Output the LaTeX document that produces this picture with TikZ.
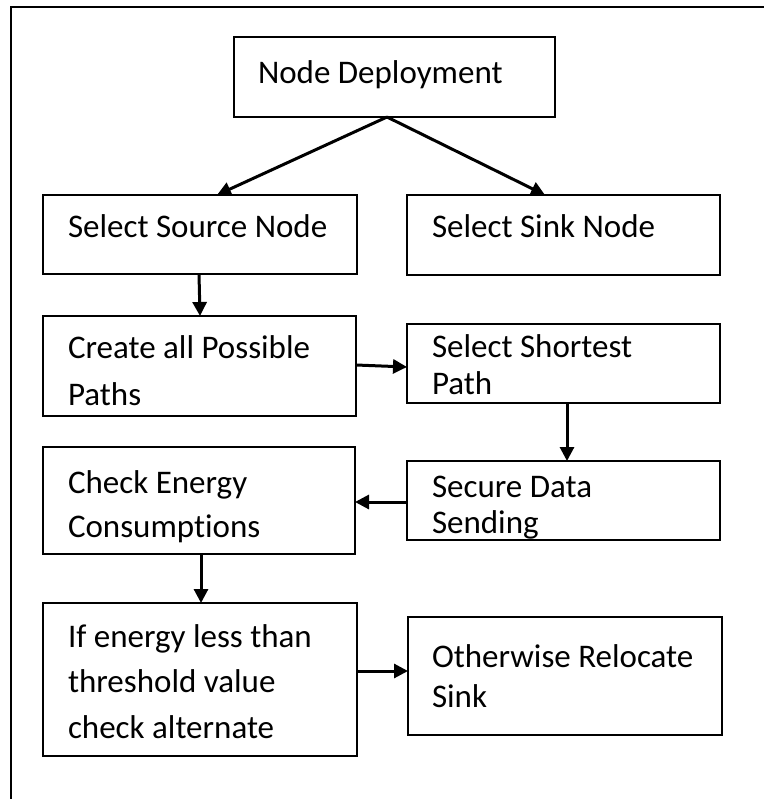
\documentclass[tikz,border=0pt]{standalone}
\usepackage{fontspec}
\setmainfont{Carlito}[Ligatures={NoCommon}]
\usetikzlibrary{arrows.meta,calc}
\begin{document}
\begin{tikzpicture}[x=1pt,y=-1pt,
  box/.style={draw,line width=2pt,rectangle,inner sep=0pt,outer sep=0pt},
  txt/.style={anchor=base west,inner sep=0pt,outer sep=0pt,font=\fontsize{33}{40}\selectfont},
  arr/.style={line width=3pt,-{Triangle[length=14pt,width=14pt]}},
  frameline/.style={line width=2pt}]
\useasboundingbox (0,0) rectangle (764,799);
% outer frame
\coordinate (f1) at (11,799);
\coordinate (f2) at (11,7);
\coordinate (f3) at (764,7);
\draw[frameline] (f1) -- (f2) -- (f3);
% boxes
\node[box,minimum width=321pt,minimum height=80pt] (nd) at (394.5,77) {};
\node[box,minimum width=314pt,minimum height=79pt] (src) at (200,234.5) {};
\node[box,minimum width=313pt,minimum height=80pt] (snk) at (563.5,235) {};
\node[box,minimum width=313pt,minimum height=100pt] (cre) at (199.5,366) {};
\node[box,minimum width=313pt,minimum height=79pt] (sho) at (563.5,363.5) {};
\node[box,minimum width=312pt,minimum height=107pt] (chk) at (199,500.5) {};
\node[box,minimum width=313pt,minimum height=79pt] (sec) at (563.5,500.5) {};
\node[box,minimum width=314pt,minimum height=153pt] (ife) at (200,679.5) {};
\node[box,minimum width=314pt,minimum height=118pt] (oth) at (565,676) {};
% texts
\node[txt] (ndt) at (258,84) {Node Deployment};
\node[txt] (srct) at (68,238) {Select Source Node};
\node[txt] (snkt) at (432,238) {Select Sink Node};
\node[txt] (cret1) at (68,358) {Create all Possible};
\node[txt] (cret2) at (68,405) {Paths};
\node[txt] (shot1) at (432,357) {Select Shortest};
\node[txt] (shot2) at (432,394) {Path};
\node[txt] (chkt1) at (68,493) {Check Energy};
\node[txt] (chkt2) at (68,537) {Consumptions};
\node[txt] (sect1) at (432,497) {Secure Data};
\node[txt] (sect2) at (432,533) {Sending};
\node[txt] (ifet1) at (68,647) {If energy less than};
\node[txt] (ifet2) at (68,692) {threshold value};
\node[txt] (ifet3) at (68,738) {check alternate};
\node[txt] (otht1) at (432,667) {Otherwise Relocate};
\node[txt] (otht2) at (432,707) {Sink};
% connectors
\coordinate (apex) at ($(nd.south)+(-7.5,0)$);
\draw[arr] (apex) -- ($(src.north west)+(174,0)$);
\draw[arr] (apex) -- ($(snk.north west)+(138,0)$);
\draw[arr] ($(src.south west)+(156,0)$) -- ($(cre.north west)+(157,0)$);
\draw[arr] ($(cre.north east)+(0,49)$) -- ($(sho.north west)+(0,43)$);
\draw[arr] ($(sho.south west)+(160,0)$) -- ($(sec.north west)+(160,0)$);
\draw[arr] ($(sec.north west)+(0,41)$) -- ($(chk.north east)+(0,55)$);
\draw[arr] ($(chk.south west)+(158,0)$) -- ($(ife.north west)+(158,0)$);
\draw[arr] ($(ife.north east)+(0,68)$) -- ($(oth.north west)+(0,54)$);
\end{tikzpicture}
\end{document}
